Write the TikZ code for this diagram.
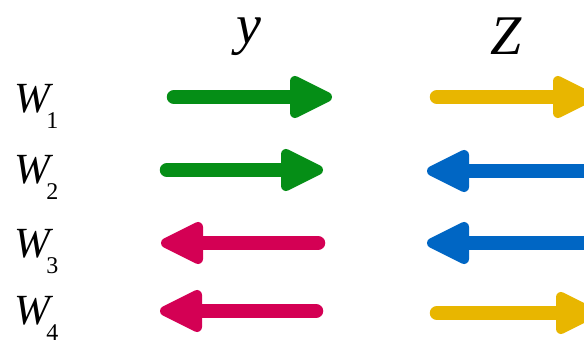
\documentclass[tikz,border=0pt]{standalone}
\usepackage{fontspec}
\setmainfont{Liberation Serif}
\usetikzlibrary{calc}
\definecolor{cgreen}{RGB}{5,142,22}
\definecolor{cred}{RGB}{212,0,84}
\definecolor{cblue}{RGB}{0,102,196}
\definecolor{cyellow}{RGB}{232,182,0}
\tikzset{
  shaft/.style={line width=14.5pt,line cap=round},
  headst/.style={line width=10pt,line join=round},
  lab/.style={inner sep=0pt,anchor=base west,font=\fontsize{43pt}{43pt}\selectfont},
  head/.style={inner sep=0pt,anchor=base,font=\fontsize{56pt}{56pt}\selectfont\itshape}
}
% right-pointing arrow: colour, tail coordinate, tip coordinate
\newcommand\rarr[3]{%
  \draw[shaft,#1] (#2) -- ($(#3)+(-30,0)$);
  \filldraw[headst,#1] ($(#3)+(-37,-16)$) -- ($(#3)+(-37,16)$) -- ($(#3)+(-5,0)$) -- cycle;
}
% left-pointing arrow: colour, tail coordinate, tip coordinate
\newcommand\larr[3]{%
  \draw[shaft,#1] (#2) -- ($(#3)+(30,0)$);
  \filldraw[headst,#1] ($(#3)+(37,-16)$) -- ($(#3)+(37,16)$) -- ($(#3)+(5,0)$) -- cycle;
}
\newcommand\wlab[1]{\textit{W}\kern-7pt\raisebox{-16pt}[0pt][0pt]{\fontsize{24pt}{24pt}\selectfont #1}}
\begin{document}
\begin{tikzpicture}[x=1pt,y=-1pt]
\useasboundingbox (0,0) rectangle (584,342);
\clip (0,0) rectangle (584,342);
% column heads
\node[head] (hy) at (249,44) {y};
\node[head] (hz) at (506,55) {Z};
% row labels
\node[lab] (w1) at (14,113) {\wlab{1}};
\node[lab] (w2) at (14,184) {\wlab{2}};
\node[lab] (w3) at (14,257) {\wlab{3}};
\node[lab] (w4) at (14,324) {\wlab{4}};
% arrow end points
\coordinate (a1t) at (174,97);  \coordinate (a1h) at (332,97);
\coordinate (b1t) at (437,97);  \coordinate (b1h) at (595,97);
\coordinate (a2t) at (167,170); \coordinate (a2h) at (323,170);
\coordinate (b2t) at (610,171); \coordinate (b2h) at (427,171);
\coordinate (a3t) at (318,243); \coordinate (a3h) at (161,243);
\coordinate (b3t) at (610,243); \coordinate (b3h) at (427,243);
\coordinate (a4t) at (316,311); \coordinate (a4h) at (160,311);
\coordinate (b4t) at (437,313); \coordinate (b4h) at (598,313);
\rarr{cgreen}{a1t}{a1h}
\rarr{cyellow}{b1t}{b1h}
\rarr{cgreen}{a2t}{a2h}
\larr{cblue}{b2t}{b2h}
\larr{cred}{a3t}{a3h}
\larr{cblue}{b3t}{b3h}
\larr{cred}{a4t}{a4h}
\rarr{cyellow}{b4t}{b4h}
\end{tikzpicture}
\end{document}
